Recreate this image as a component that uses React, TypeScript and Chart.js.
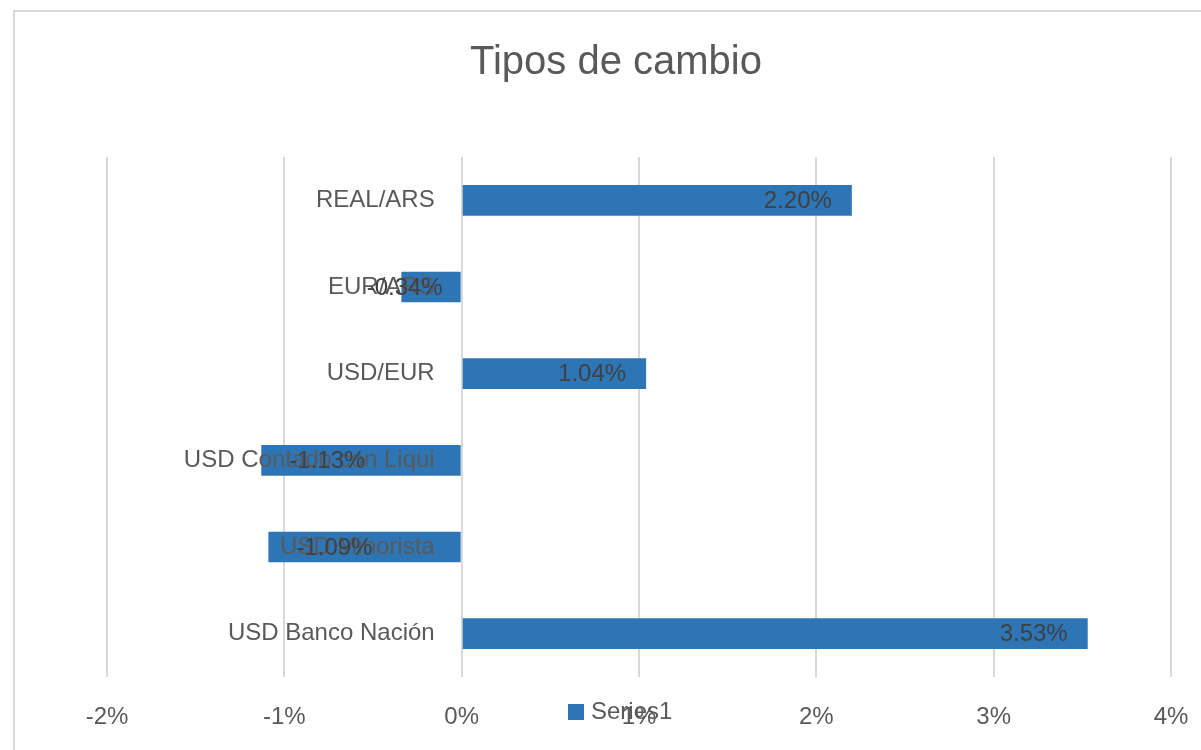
import React, { useEffect, useRef } from "react";
import { Chart, registerables } from "chart.js";

Chart.register(...registerables);

const categories = [
  "REAL/ARS",
  "EUR/ARS",
  "USD/EUR",
  "USD Contado con Liqui",
  "USD Minorista",
  "USD Banco Nación",
];
const values = [2.2, -0.34, 1.04, -1.13, -1.09, 3.53];
const seriesName = "Series1";
const chartTitle = "Tipos de cambio";
const xMin = -2;
const xMax = 4;
const xStep = 1;

const FONT = '"Liberation Sans", Arial, sans-serif';
const BAR_COLOR = "#2E75B6";
const TEXT_COLOR = "#595959";
const VALUE_COLOR = "#404040";
const GRID_COLOR = "#D9D9D9";

const CANVAS_W = 1214;
const CANVAS_H = 760;

const excelPlugin = {
  id: "excelDecor",
  beforeDraw(chart: any) {
    const ctx = chart.ctx;
    ctx.save();
    ctx.fillStyle = "#ffffff";
    ctx.fillRect(0, 0, chart.width, chart.height);
    ctx.strokeStyle = GRID_COLOR;
    ctx.lineWidth = 2;
    ctx.strokeRect(14, 11, chart.width + 40, chart.height + 40);
    ctx.restore();
  },
  afterDatasetsDraw(chart: any) {
    const ctx = chart.ctx;
    const xs = chart.scales.x;
    const ys = chart.scales.y;
    const zero = xs.getPixelForValue(0);
    ctx.save();
    // title
    ctx.font = `40px ${FONT}`;
    ctx.fillStyle = TEXT_COLOR;
    ctx.textAlign = "center";
    ctx.textBaseline = "middle";
    ctx.fillText(chartTitle, 616, 63);

    // category labels next to axis
    ctx.font = `24px ${FONT}`;
    ctx.textAlign = "right";
    (chart.data.labels as string[]).forEach((lab, i) => {
      ctx.fillText(lab, zero - 27, ys.getPixelForValue(i));
    });

    // value labels (inside end)
    const meta = chart.getDatasetMeta(0);
    ctx.fillStyle = VALUE_COLOR;
    ctx.textAlign = "left";
    meta.data.forEach((bar: any, i: number) => {
      const v = chart.data.datasets[0].data[i] as number;
      const text = v.toFixed(2) + "%";
      const w = ctx.measureText(text).width;
      let left: number;
      if (v >= 0) {
        left = bar.x - 20 - w;
      } else {
        left = bar.x + 28;
        if (left + w > zero - 19) left = zero - 19 - w;
      }
      ctx.fillText(text, left, bar.y + 1);
    });

    // legend
    const ds = chart.data.datasets[0];
    ctx.fillStyle = ds.backgroundColor;
    ctx.fillRect(568, 704, 16, 16);
    ctx.fillStyle = TEXT_COLOR;
    ctx.textAlign = "left";
    ctx.fillText(ds.label, 591, 712);
    ctx.restore();
  },
};

export default function App() {
  const ref = useRef<HTMLCanvasElement | null>(null);

  useEffect(() => {
    if (!ref.current) return;
    const chart = new Chart(ref.current, {
      type: "bar",
      data: {
        labels: categories,
        datasets: [
          {
            label: seriesName,
            data: values,
            backgroundColor: BAR_COLOR,
            borderWidth: 0,
            barPercentage: 0.353,
            categoryPercentage: 1,
          },
        ],
      },
      options: {
        indexAxis: "y",
        responsive: false,
        animation: false,
        layout: { padding: { left: 107, right: 30, top: 157, bottom: 3 } },
        plugins: {
          legend: { display: false },
          title: { display: false },
          tooltip: { enabled: false },
        },
        scales: {
          x: {
            min: xMin,
            max: xMax,
            ticks: {
              stepSize: xStep,
              callback: (v: any) => `${v}%`,
              color: TEXT_COLOR,
              font: { family: FONT, size: 24, lineHeight: 1.2 },
              padding: 25.6,
              maxRotation: 0,
            },
            grid: { color: GRID_COLOR, lineWidth: 2, drawTicks: false },
            border: { display: false },
          },
          y: {
            display: false,
          },
        },
      },
      plugins: [excelPlugin],
    });
    return () => chart.destroy();
  }, []);

  return (
    <div
      style={{
        position: "fixed",
        left: 0,
        top: 0,
        width: CANVAS_W,
        height: CANVAS_H,
        background: "#fff",
      }}
    >
      <canvas ref={ref} width={CANVAS_W} height={CANVAS_H} style={{ display: "block" }} />
    </div>
  );
}
